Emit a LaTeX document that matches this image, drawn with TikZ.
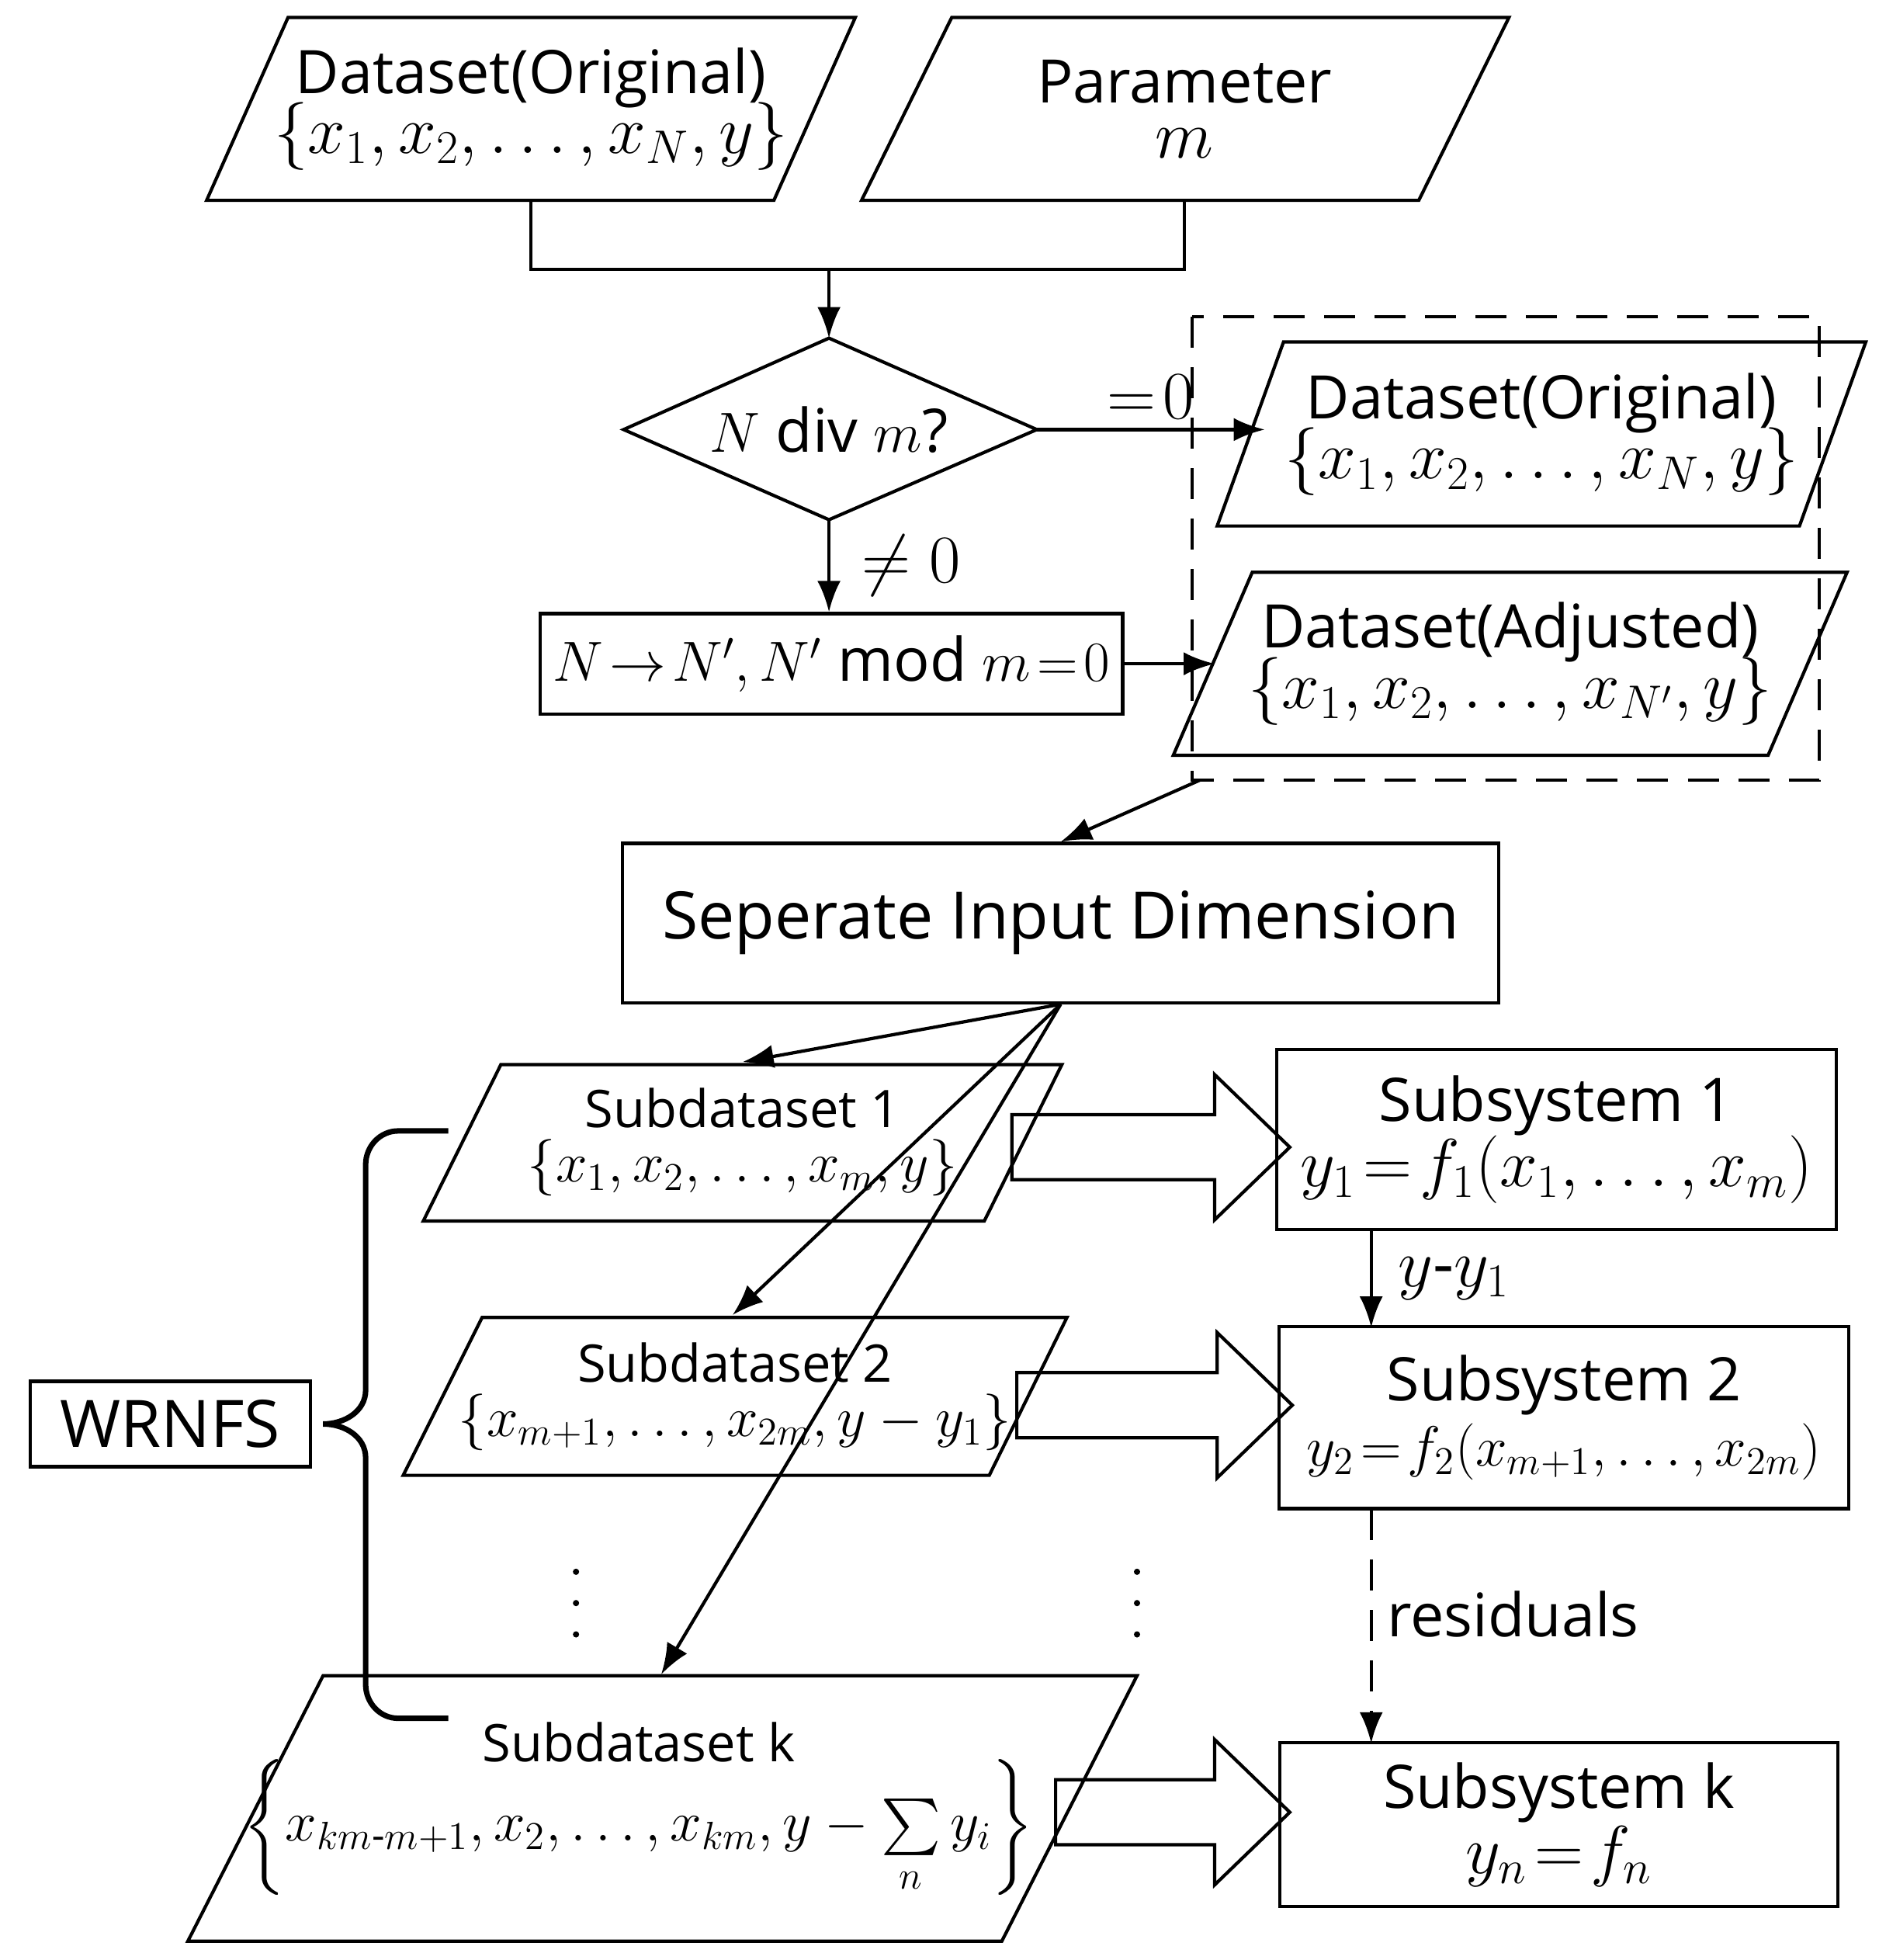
\documentclass[tikz,border=0pt]{standalone}
\usepackage{amsmath}
\usepackage{fontspec}
\setmainfont{Open Sans}
\usetikzlibrary{calc,arrows.meta}
\newcommand{\hollowarrow}[4]{% name, tail x, tip x, centre y
    \draw (#2,#4-26) -- (#3-60,#4-26) -- (#3-60,#4-58) -- (#3,#4) -- (#3-60,#4+58) -- (#3-60,#4+26) -- (#2,#4+26) -- cycle;
    \coordinate (#1) at (#3,#4);
}
\tikzset{every picture/.style={baseline={([yshift=-0.3em]current bounding box.center)}}}
\begin{document}
\begin{tikzpicture}[
        x=0.01613cm, y=-0.01613cm,
        line width=1.2pt,
        box/.style={draw, inner sep=0pt, align=center},
        link/.style={-{Latex[length=4mm,width=3mm]}},
        dsh/.style={dash pattern=on 4mm off 2.5mm},
        txt/.style={font=\fontsize{22}{26}\selectfont},
        subtxt/.style={font=\fontsize{19}{22}\selectfont}
    ]
    \useasboundingbox (0,0) rectangle (1500,1565);

    % inputs
    \draw (230,14) -- (683,14) -- (618,160) -- (165,160) -- cycle;
    \node[txt, align=center] (orig) at (424,87) {Dataset(Original)\\[-4pt]\fontsize{26}{28}\selectfont$\{x_1,x_2,\ldots,x_N,y\}$};
    \draw (760,14) -- (1205,14) -- (1133,160) -- (688,160) -- cycle;
    \node[txt, align=center] (param) at (946,87) {Parameter\\[-6pt]\fontsize{30}{30}\selectfont$m$};

    \coordinate (j1) at (424,215);
    \coordinate (j2) at (946,215);
    \coordinate (j0) at (662,215);
    \draw (424,160) -- (j1) -- (j2) -- (946,160);

    % decision
    \draw (662,270) -- (828,343) -- (662,415) -- (498,343) -- cycle;
    \coordinate (dtop) at (662,270);
    \coordinate (dright) at (828,343);
    \coordinate (dbot) at (662,415);
    \node[txt] (cond) at (662,343) {$N$ div $m$?};
    \draw[link] (j0) -- (dtop);

    \node[box, txt, minimum width=7.5cm, minimum height=1.29cm] (adj) at (664,530) {$N\!\rightarrow\!N',N'$ mod $m\!=\!0$};
    \draw[link] (dbot) -- (adj.north -| dbot) node[midway, right=8pt, txt] {\fontsize{28}{28}\selectfont$\neq 0$};

    % datasets
    \draw[dsh] (952,253) rectangle (1453,623);
    \coordinate (dsout) at (958,623);
    \draw (1025,273) -- (1490,273) -- (1437,420) -- (972,420) -- cycle;
    \node[txt, align=center] (dorig) at (1231,347) {Dataset(Original)\\[-4pt]\fontsize{26}{28}\selectfont$\{x_1,x_2,\ldots,x_N,y\}$};
    \draw (1000,457) -- (1475,457) -- (1412,603) -- (937,603) -- cycle;
    \node[txt, align=center] (dadj) at (1206,530) {Dataset(Adjusted)\\[-4pt]\fontsize{26}{28}\selectfont$\{x_1,x_2,\ldots,x_{N'},y\}$};
    \coordinate (dorigin) at (1010,343);
    \coordinate (dadjin) at (970,530);
    \draw[link] (dright) -- (dorigin) node[pos=0.5, above, txt] {\fontsize{28}{28}\selectfont$=\!0$};
    \draw[link] (adj.east) -- (dadjin);

    % separation
    \node[box, font=\fontsize{24}{28}\selectfont, minimum width=11.29cm, minimum height=2.05cm] (sep) at (847,737) {Seperate Input Dimension};
    \draw[link] (dsout) -- (sep.north);

    % subdatasets
    \draw (400,850) -- (848,850) -- (786,975) -- (338,975) -- cycle;
    \node[subtxt, align=center] (sub1) at (593,912) {Subdataset 1\\[-2pt]\fontsize{22}{24}\selectfont$\{x_1,x_2,\ldots,x_m,y\}$};
    \draw (385,1052) -- (852,1052) -- (790,1178) -- (322,1178) -- cycle;
    \node[subtxt, align=center] (sub2) at (587,1115) {Subdataset 2\\[-2pt]\fontsize{21}{24}\selectfont$\{x_{m+1},\ldots,x_{2m},y-y_1\}$};
    \draw (258,1338) -- (908,1338) -- (800,1550) -- (150,1550) -- cycle;
    \node[subtxt, align=center] (subk) at (510,1444) {Subdataset k\\[-2pt]\fontsize{21}{24}\selectfont$\left\{x_{km\text{-}m+1},x_2,\ldots,x_{km},y-\sum\limits_n y_i\right\}$};
    \coordinate (s1in) at (593,848);
    \coordinate (s2in) at (585,1050);
    \coordinate (skin) at (528,1337);
    \foreach \t in {s1in,s2in,skin}
        \draw[link] (sep.south) -- (\t);

    \foreach \x in {460,908}
        \foreach \y in {1255,1280,1305}
            \fill (\x,\y) circle (2.5);

    % subsystems
    \node[box, font=\fontsize{22}{26}\selectfont, minimum width=7.21cm, minimum height=2.32cm] (sys1) at (1243,910) {Subsystem 1\\[-2pt]\fontsize{23}{26}\selectfont$y_1\!=\!f_1(x_1,\ldots,x_m)$};
    \node[box, font=\fontsize{22}{26}\selectfont, minimum width=7.34cm, minimum height=2.34cm] (sys2) at (1249,1132) {Subsystem 2\\[-2pt]\fontsize{21}{26}\selectfont$y_2\!=\!f_2(x_{m+1},\ldots,x_{2m})$};
    \node[box, font=\fontsize{22}{26}\selectfont, minimum width=7.19cm, minimum height=2.11cm] (sysk) at (1245,1457) {Subsystem k\\[-2pt]\fontsize{24}{26}\selectfont$y_n\!=\!f_n$};

    \coordinate (a1) at (1095,982);
    \coordinate (a2) at (1095,1060);
    \coordinate (a3) at (1095,1205);
    \coordinate (a4) at (1095,1392);
    \draw[link] (a1) -- (a2) node[midway, right=6pt, font=\fontsize{24}{26}\selectfont] {$y\text{-}y_1$};
    \draw[link, dsh] (a3) -- (a4) node[pos=0.45, right=2pt, txt] {residuals};

    \hollowarrow{ar1}{808}{1030}{916}
    \hollowarrow{ar2}{812}{1032}{1122}
    \hollowarrow{ark}{843}{1030}{1447}

    % WRNFS
    \node[box, font=\fontsize{24}{28}\selectfont, minimum width=3.61cm, minimum height=1.1cm] (wr) at (136,1137) {WRNFS};
    \draw[line width=2pt] (358,903) -- (318,903) to[out=180,in=90] (292,930) -- (292,1110)
          to[out=-90,in=0] (258,1137) to[out=0,in=90] (292,1164) -- (292,1345)
          to[out=-90,in=180] (318,1372) -- (358,1372);
\end{tikzpicture}
\end{document}
